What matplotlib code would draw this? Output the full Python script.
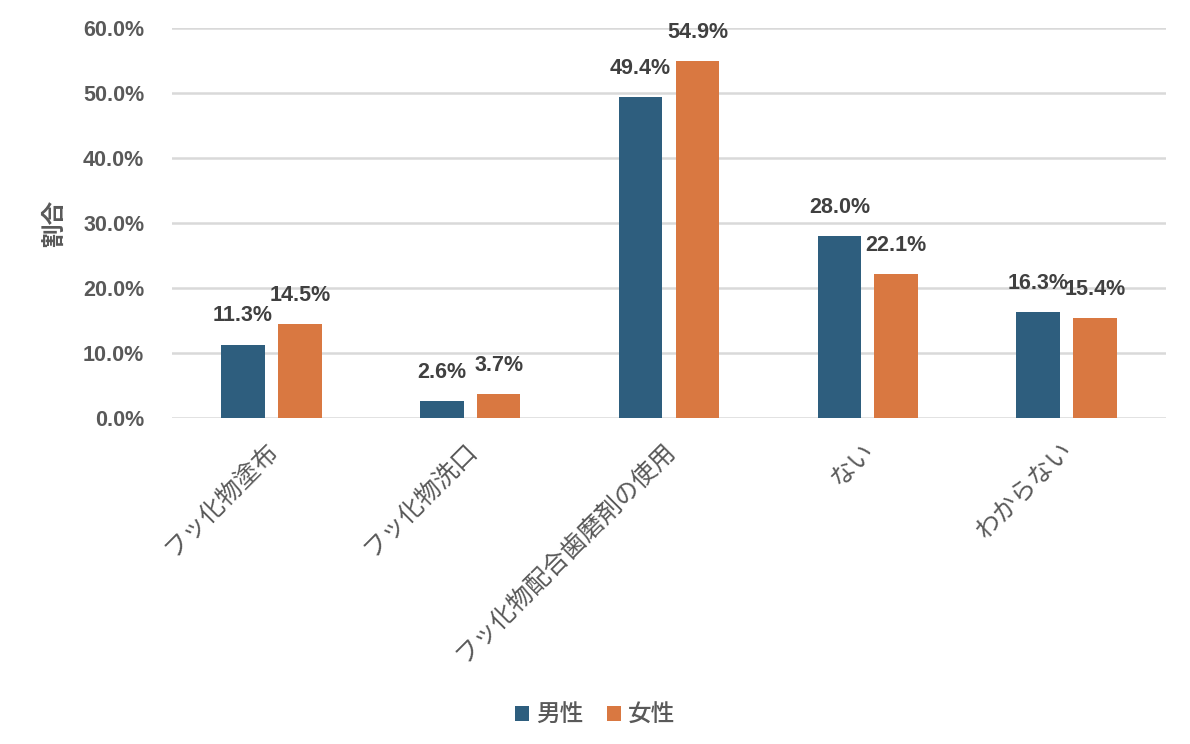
import numpy as np
import matplotlib
matplotlib.use("Agg")
from matplotlib import pyplot as plt
from matplotlib import transforms
from matplotlib.ticker import FuncFormatter

plt.rcParams['font.family'] = ['Liberation Sans', 'Noto Sans CJK JP', 'DejaVu Sans']

# data
categories = ['フッ化物塗布', 'フッ化物洗口', 'フッ化物配合歯磨剤の使用', 'ない', 'わからない']
male = [11.3, 2.6, 49.4, 28.0, 16.3]
female = [14.5, 3.7, 54.9, 22.1, 15.4]
series_names = ['男性', '女性']

blue = '#2E5E7E'
orange = '#D97841'
gray = '#595959'

fig = plt.figure(figsize=(11.9, 7.44), dpi=100)
ax = fig.add_axes([172 / 1190, 1 - 418 / 744, 994 / 1190, 390 / 744])

x = np.arange(len(categories))
w = 0.22
off = 0.143
b1 = ax.bar(x - off, male, w, color=blue, label=series_names[0], zorder=3)
b2 = ax.bar(x + off, female, w, color=orange, label=series_names[1], zorder=3)

for bars, vals in [(b1, male), (b2, female)]:
    for r, v in zip(bars, vals):
        ax.annotate(f'{v:.1f}%', (r.get_x() + r.get_width() / 2, v),
                    xytext=(0, 13), textcoords='offset points',
                    ha='center', va='bottom', fontsize=15.5, fontweight='bold',
                    color='#404040', zorder=4)

ax.set_xlim(-0.5, len(categories) - 0.5)
ax.set_ylim(0, 60)
ax.set_yticks(np.arange(0, 61, 10))
ax.yaxis.set_major_formatter(FuncFormatter(lambda v, p: f'{v:.1f}%'))
ax.grid(axis='y', color='#D9D9D9', linewidth=1.8, zorder=0)
ax.set_axisbelow(True)
for s in ax.spines.values():
    s.set_visible(False)
ax.tick_params(axis='both', length=0, labelsize=15.5, colors=gray)
ax.tick_params(axis='y', pad=20)
for t in ax.get_yticklabels():
    t.set_fontweight('bold')

ax.set_xticks(x)
ax.set_xticklabels(categories, rotation=45, ha='right', rotation_mode='anchor',
                   fontsize=18, color=gray, family=['Noto Sans CJK JP'])
ax.tick_params(axis='x', pad=14)
shift = transforms.ScaledTranslation(-7 / 100, 0, fig.dpi_scale_trans)
for t in ax.get_xticklabels():
    t.set_transform(t.get_transform() + shift)

ax.set_ylabel('割合', fontsize=17, fontweight='bold', color=gray,
              family=['Noto Sans CJK JP'], labelpad=12)

leg = fig.legend(loc='lower center', bbox_to_anchor=(0.5, -0.005), ncol=2,
                 frameon=False, handlelength=0.6, handleheight=0.6,
                 handletextpad=0.3, columnspacing=1.0,
                 prop={'family': ['Noto Sans CJK JP'], 'size': 17, 'weight': 'medium'})
for t in leg.get_texts():
    t.set_color(gray)

fig.savefig('out.png', dpi=100)
